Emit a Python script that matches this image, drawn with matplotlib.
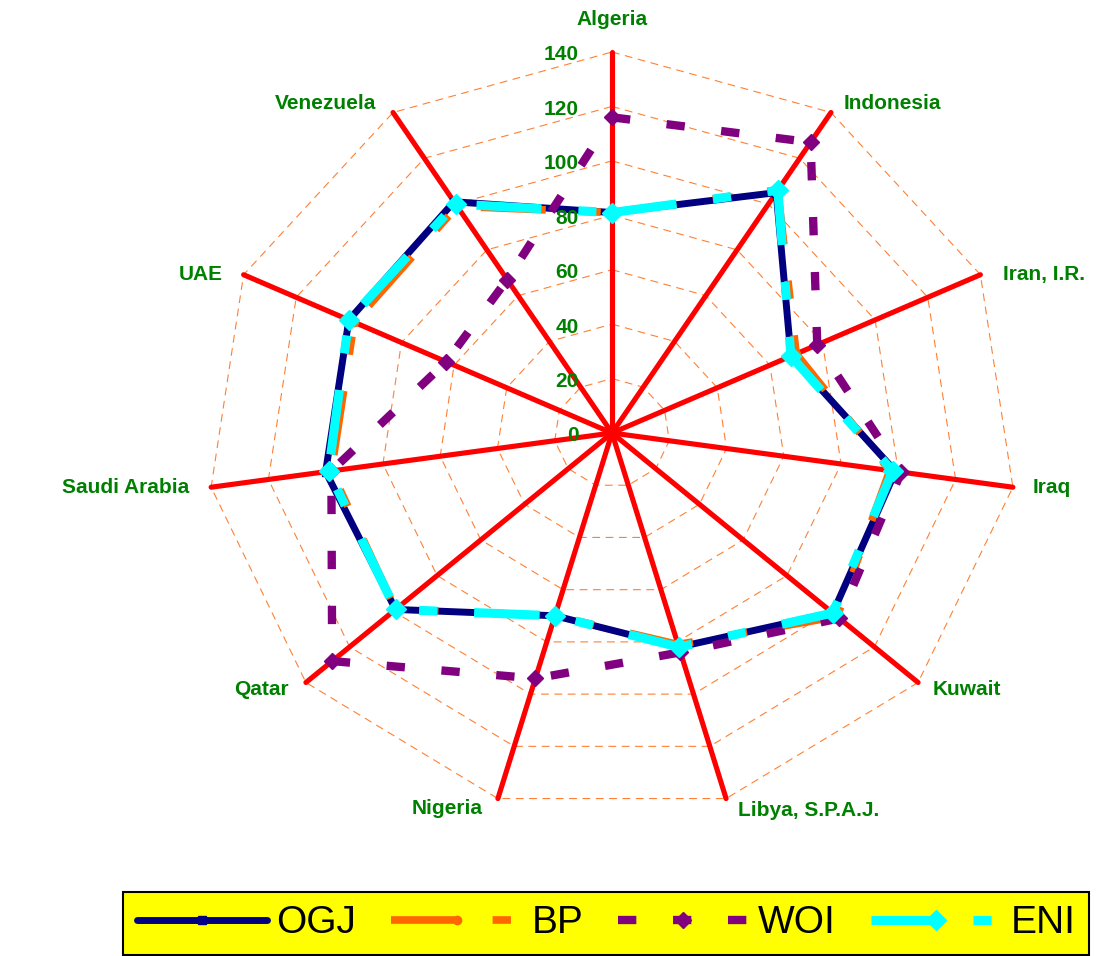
import numpy as np
import matplotlib
matplotlib.use('Agg')
import matplotlib.pyplot as plt

# ---------------- data ----------------
categories = ['Algeria', 'Indonesia', 'Iran, I.R.', 'Iraq', 'Kuwait',
              'Libya, S.P.A.J.', 'Nigeria', 'Qatar', 'Saudi Arabia', 'UAE',
              'Venezuela']
ogj = [81, 105, 68, 99, 101, 82, 70, 99, 100, 100, 101]
bp = [81, 106, 70, 97, 103, 81, 70, 99, 98, 98, 99]
woi = [116, 127, 78, 101, 104, 84, 94, 128, 98, 63, 67]
eni = [81, 106, 68, 98, 101, 82, 70, 99, 99, 100, 100]
series_names = ['OGJ', 'BP', 'WOI', 'ENI']
levels = [0, 20, 40, 60, 80, 100, 120, 140]
level_labels = ['0', '20', '40', '60', '80', '100', '120', '140']

plt.rcParams['font.family'] = ['Liberation Sans', 'DejaVu Sans']

fig = plt.figure(figsize=(11.18, 9.56), dpi=100)
fig.patch.set_facecolor('white')
ax = fig.add_axes([0.18515, 0.14854, 0.72451, 0.79707], projection='polar')
ax.set_aspect('auto')
ax.set_theta_zero_location('N')
ax.set_theta_direction(-1)
ax.set_ylim(0, 140)
ax.set_xticks([])
ax.set_yticks([])
ax.grid(False)
ax.spines['polar'].set_visible(False)
ax.patch.set_visible(False)

n = len(categories)
theta = np.arange(n) * 2 * np.pi / n
theta_c = np.append(theta, theta[0])


def closed(v):
    return list(v) + [v[0]]


# polygon grid
for lv in levels[1:]:
    ax.plot(theta_c, [lv] * (n + 1), color='#FF8033', lw=0.8,
            ls=(0, (7, 5)), zorder=1, clip_on=False)

# spokes
for t in theta:
    ax.plot([t, t], [0, 140], color='#FF0000', lw=3.7,
            solid_capstyle='round', zorder=2, clip_on=False)

mk = slice(0, n)
l1, = ax.plot(theta_c, closed(ogj), color='#000080', lw=5, marker='s', ms=6,
              markevery=mk, solid_joinstyle='round', solid_capstyle='round',
              zorder=3, label=series_names[0], clip_on=False)
l2, = ax.plot(theta_c, closed(bp), color='#FF6600', lw=5.5,
              ls=(0, (8.5, 4.8, 2.4, 4.8)), marker='o', ms=6, markevery=mk,
              zorder=4, label=series_names[1], clip_on=False)
l3, = ax.plot(theta_c, closed(woi), color='#800080', lw=6,
              ls=(0, (2.2, 4.4)), marker='D', ms=8, markevery=mk,
              zorder=5, label=series_names[2], clip_on=False)
l4, = ax.plot(theta_c, closed(eni), color='#00FFFF', lw=6.5,
              ls=(0, (7.2, 4.1, 2.0, 4.1)), marker='D', ms=10, markevery=mk,
              zorder=6, label=series_names[3], clip_on=False)

green = '#008000'
# radial tick labels
for lv, lab in zip(levels, level_labels):
    ax.annotate(lab, xy=(0, lv), xytext=(-33, -3), textcoords='offset pixels',
                ha='right', va='center', color=green, fontsize=15,
                fontweight='bold', zorder=7, annotation_clip=False)

# category labels: (dx, dy, ha)
offsets = [(0, 32, 'center'), (13, 9, 'left'), (23, 0, 'left'),
           (20, 0, 'left'), (15, -7, 'left'), (12, -12, 'left'),
           (-15, -10, 'right'), (-17, -7, 'right'), (-22, 0, 'right'),
           (-21, 0, 'right'), (-17, 9, 'right')]
for t, cat, (dx, dy, ha) in zip(theta, categories, offsets):
    ax.annotate(cat, xy=(t, 140), xytext=(dx, dy), textcoords='offset pixels',
                ha=ha, va='center', color=green, fontsize=15,
                fontweight='bold', annotation_clip=False)

leg = fig.legend(handles=[l1, l2, l3, l4], loc='lower left',
                 bbox_to_anchor=(123 / 1118, 1 / 956),
                 ncol=4, fontsize=28, frameon=True,
                 fancybox=False, facecolor='#FFFF00', edgecolor='black',
                 framealpha=1, handlelength=3.35, handletextpad=0.25,
                 columnspacing=0.9, borderpad=0.35, numpoints=1,
                 borderaxespad=0)
leg.get_frame().set_linewidth(1.5)

fig.savefig('out.png', dpi=100)
